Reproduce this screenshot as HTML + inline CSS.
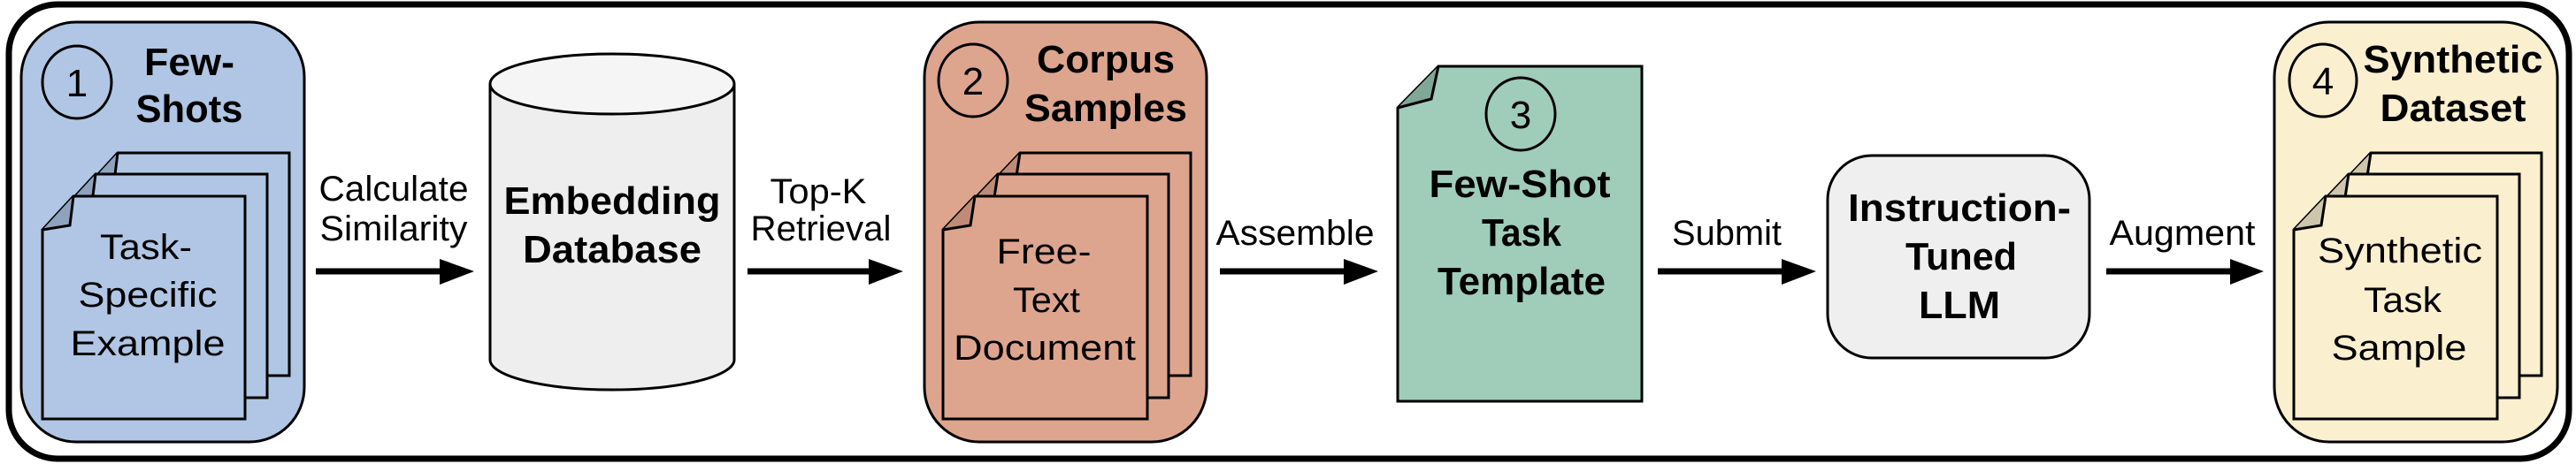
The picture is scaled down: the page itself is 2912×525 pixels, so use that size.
<!DOCTYPE html>
<html><head><meta charset="utf-8"><style>
html,body{margin:0;padding:0;background:#fff;}
svg{display:block;}
text{font-family:"Liberation Sans",Arial,sans-serif;fill:#000;}
.b{font-weight:bold;font-size:44px;}
.n{font-size:40px;}
.d{font-size:44px;}
</style></head><body>
<svg width="2912" height="525" viewBox="0 0 2912 525" xmlns="http://www.w3.org/2000/svg">
<rect x="10" y="5" width="2894" height="514" rx="55" ry="55" fill="#fff" stroke="#000" stroke-width="7"/>

<!-- Box 1 -->
<rect x="24" y="25" width="320" height="475" rx="62" ry="62" fill="#b0c6e4" stroke="#000" stroke-width="3"/>
<ellipse cx="87" cy="93" rx="39" ry="41" fill="none" stroke="#000" stroke-width="3"/>
<text class="d" x="87" y="109" text-anchor="middle">1</text>
<text class="b" x="214" y="85" text-anchor="middle" textLength="102" lengthAdjust="spacingAndGlyphs">Few-</text>
<text class="b" x="214" y="138" text-anchor="middle" textLength="121" lengthAdjust="spacingAndGlyphs">Shots</text>
<g fill="#b0c6e4" stroke="#000" stroke-width="3" stroke-linejoin="miter">
<path d="M133,173 L327,173 L327,425 L98,425 L98,211 Z"/><path d="M98,211 L129,206 L133,173" fill="#8fa2bd"/>
<path d="M108,197 L302,197 L302,450 L73,450 L73,235 Z"/><path d="M73,235 L104,230 L108,197" fill="#8fa2bd"/>
<path d="M83,222 L277,222 L277,474 L48,474 L48,260 Z"/><path d="M48,260 L79,255 L83,222" fill="#8fa2bd"/>
</g>
<text class="n" x="165" y="293" text-anchor="middle" textLength="104" lengthAdjust="spacingAndGlyphs">Task-</text>
<text class="n" x="167" y="347" text-anchor="middle" textLength="157" lengthAdjust="spacingAndGlyphs">Specific</text>
<text class="n" x="167" y="402" text-anchor="middle" textLength="175" lengthAdjust="spacingAndGlyphs">Example</text>

<!-- Arrow 1 -->
<line x1="357" y1="307" x2="500" y2="307" stroke="#000" stroke-width="7"/>
<polygon points="497,293 536,307 497,322" fill="#000"/>
<text class="n" x="445" y="227" text-anchor="middle" textLength="169" lengthAdjust="spacingAndGlyphs">Calculate</text>
<text class="n" x="445" y="272" text-anchor="middle" textLength="167" lengthAdjust="spacingAndGlyphs">Similarity</text>

<!-- Cylinder -->
<path d="M554,95 L554,407 A138,34 0 0 0 830,407 L830,95" fill="#eeeeee" stroke="#000" stroke-width="3"/>
<ellipse cx="692" cy="95" rx="138" ry="34" fill="#f5f5f5" stroke="#000" stroke-width="3"/>
<text class="b" x="692" y="242" text-anchor="middle" textLength="245" lengthAdjust="spacingAndGlyphs">Embedding</text>
<text class="b" x="692" y="297" text-anchor="middle" textLength="202" lengthAdjust="spacingAndGlyphs">Database</text>

<!-- Arrow 2 -->
<line x1="845" y1="307" x2="985" y2="307" stroke="#000" stroke-width="7"/>
<polygon points="982,293 1021,307 982,322" fill="#000"/>
<text class="n" x="925" y="230" text-anchor="middle" textLength="109" lengthAdjust="spacingAndGlyphs">Top-K</text>
<text class="n" x="928" y="272" text-anchor="middle" textLength="159" lengthAdjust="spacingAndGlyphs">Retrieval</text>

<!-- Box 2 -->
<rect x="1045" y="25" width="319" height="475" rx="62" ry="62" fill="#dea58e" stroke="#000" stroke-width="3"/>
<ellipse cx="1100" cy="91" rx="39" ry="41" fill="none" stroke="#000" stroke-width="3"/>
<text class="d" x="1100" y="107" text-anchor="middle">2</text>
<text class="b" x="1250" y="82" text-anchor="middle" textLength="156" lengthAdjust="spacingAndGlyphs">Corpus</text>
<text class="b" x="1250" y="137" text-anchor="middle" textLength="184" lengthAdjust="spacingAndGlyphs">Samples</text>
<g fill="#dea58e" stroke="#000" stroke-width="3">
<path d="M1153,173 L1346,173 L1346,425 L1117,425 L1117,211 Z"/><path d="M1117,211 L1148,206 L1153,173" fill="#bd8b77"/>
<path d="M1128,197 L1321,197 L1321,450 L1092,450 L1092,235 Z"/><path d="M1092,235 L1123,230 L1128,197" fill="#bd8b77"/>
<path d="M1102,222 L1297,222 L1297,474 L1066,474 L1066,260 Z"/><path d="M1066,260 L1097,255 L1102,222" fill="#bd8b77"/>
</g>
<text class="n" x="1180" y="298" text-anchor="middle" textLength="107" lengthAdjust="spacingAndGlyphs">Free-</text>
<text class="n" x="1183" y="353" text-anchor="middle" textLength="76" lengthAdjust="spacingAndGlyphs">Text</text>
<text class="n" x="1181" y="407" text-anchor="middle" textLength="206" lengthAdjust="spacingAndGlyphs">Document</text>

<!-- Arrow 3 -->
<line x1="1379" y1="307" x2="1522" y2="307" stroke="#000" stroke-width="7"/>
<polygon points="1519,293 1558,307 1519,322" fill="#000"/>
<text class="n" x="1464" y="277" text-anchor="middle" textLength="179" lengthAdjust="spacingAndGlyphs">Assemble</text>

<!-- Doc 3 -->
<path d="M1626,75 L1856,75 L1856,454 L1580,454 L1580,122 Z" fill="#9fcdba" stroke="#000" stroke-width="3"/>
<path d="M1580,122 L1618,112 L1626,75" fill="#80a897" stroke="#000" stroke-width="3"/>
<ellipse cx="1719" cy="129" rx="39" ry="41" fill="none" stroke="#000" stroke-width="3"/>
<text class="d" x="1719" y="145" text-anchor="middle">3</text>
<text class="b" x="1718" y="223" text-anchor="middle" textLength="205" lengthAdjust="spacingAndGlyphs">Few-Shot</text>
<text class="b" x="1720" y="278" text-anchor="middle" textLength="90" lengthAdjust="spacingAndGlyphs">Task</text>
<text class="b" x="1720" y="333" text-anchor="middle" textLength="190" lengthAdjust="spacingAndGlyphs">Template</text>

<!-- Arrow 4 -->
<line x1="1874" y1="307" x2="2017" y2="307" stroke="#000" stroke-width="7"/>
<polygon points="2014,293 2053,307 2014,322" fill="#000"/>
<text class="n" x="1952" y="277" text-anchor="middle" textLength="124" lengthAdjust="spacingAndGlyphs">Submit</text>

<!-- LLM -->
<rect x="2066" y="176" width="296" height="229" rx="50" ry="50" fill="#efefef" stroke="#000" stroke-width="3"/>
<text class="b" x="2215" y="250" text-anchor="middle" textLength="252" lengthAdjust="spacingAndGlyphs">Instruction-</text>
<text class="b" x="2217" y="305" text-anchor="middle" textLength="126" lengthAdjust="spacingAndGlyphs">Tuned</text>
<text class="b" x="2215" y="360" text-anchor="middle" textLength="92" lengthAdjust="spacingAndGlyphs">LLM</text>

<!-- Arrow 5 -->
<line x1="2381" y1="307" x2="2524" y2="307" stroke="#000" stroke-width="7"/>
<polygon points="2521,293 2559,307 2521,322" fill="#000"/>
<text class="n" x="2467" y="277" text-anchor="middle" textLength="165" lengthAdjust="spacingAndGlyphs">Augment</text>

<!-- Box 4 -->
<rect x="2571" y="25" width="320" height="475" rx="62" ry="62" fill="#faefcf" stroke="#000" stroke-width="3"/>
<ellipse cx="2626" cy="91" rx="38" ry="41" fill="none" stroke="#000" stroke-width="3"/>
<text class="d" x="2626" y="107" text-anchor="middle">4</text>
<text class="b" x="2773" y="82" text-anchor="middle" textLength="203" lengthAdjust="spacingAndGlyphs">Synthetic</text>
<text class="b" x="2773" y="137" text-anchor="middle" textLength="165" lengthAdjust="spacingAndGlyphs">Dataset</text>
<g fill="#faefcf" stroke="#000" stroke-width="3">
<path d="M2680,173 L2873,173 L2873,425 L2644,425 L2644,211 Z"/><path d="M2644,211 L2675,206 L2680,173" fill="#cdc6ad"/>
<path d="M2655,197 L2848,197 L2848,450 L2619,450 L2619,235 Z"/><path d="M2619,235 L2650,230 L2655,197" fill="#cdc6ad"/>
<path d="M2629,222 L2823,222 L2823,474 L2593,474 L2593,260 Z"/><path d="M2593,260 L2624,255 L2629,222" fill="#cdc6ad"/>
</g>
<text class="n" x="2713" y="297" text-anchor="middle" textLength="186" lengthAdjust="spacingAndGlyphs">Synthetic</text>
<text class="n" x="2716" y="353" text-anchor="middle" textLength="88" lengthAdjust="spacingAndGlyphs">Task</text>
<text class="n" x="2712" y="407" text-anchor="middle" textLength="153" lengthAdjust="spacingAndGlyphs">Sample</text>
</svg>
</body></html>
